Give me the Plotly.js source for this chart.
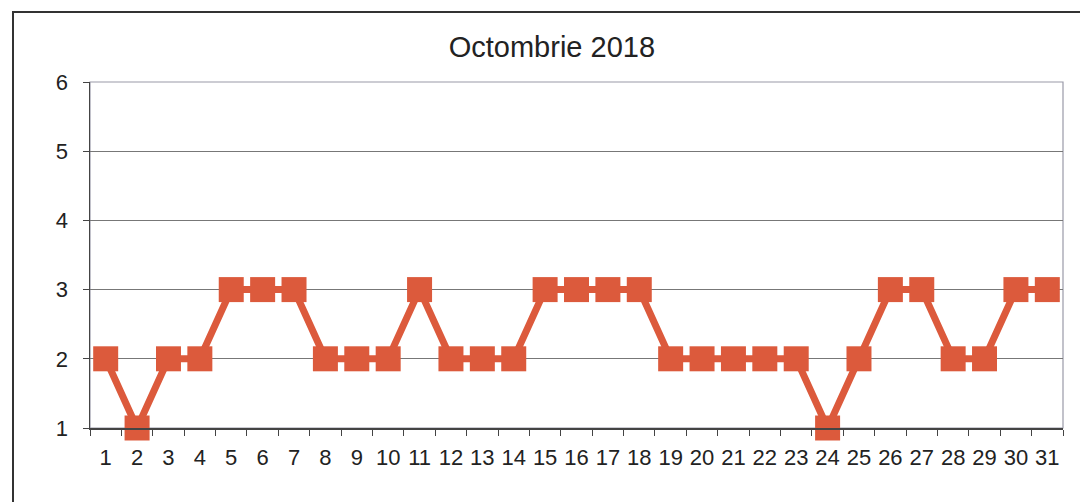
<!DOCTYPE html>
<html>
<head>
<meta charset="utf-8">
<script src="https://cdn.plot.ly/plotly-3.0.1.min.js"></script>
<style>
  html, body { margin: 0; padding: 0; background: #fff; }
  #wrap { position: relative; width: 1080px; height: 502px; overflow: hidden; }
  #frame { position: absolute; left: 12px; top: 11px; width: 1100px; height: 520px;
           border: 2px solid #333; box-sizing: border-box; pointer-events: none; }
  #chart { position: absolute; left: 0; top: 0; width: 1080px; height: 502px; }
</style>
</head>
<body>
<div id="wrap">
  <div id="chart"></div>
  <div id="frame"></div>
</div>
<script>
// daily values, October 2018
const DAYS = ['1','2','3','4','5','6','7','8','9','10','11','12','13','14','15','16',
              '17','18','19','20','21','22','23','24','25','26','27','28','29','30','31'];
const VALUES = [2, 1, 2, 2, 3, 3, 3, 2, 2, 2, 3, 2, 2, 2, 3, 3,
                3, 3, 2, 2, 2, 2, 2, 1, 2, 3, 3, 2, 2, 3, 3];
const Y_TICKS = [1, 2, 3, 4, 5, 6];

const LINE_RED = '#DC5A3C';
const FONT = 'Liberation Sans, Arial, sans-serif';

const trace = {
  type: 'scatter', mode: 'lines+markers',
  x: DAYS, y: VALUES,
  line: { color: LINE_RED, width: 7 },
  marker: { symbol: 'square', size: 25, color: LINE_RED },
  cliponaxis: false, hoverinfo: 'skip'
};

const layout = {
  width: 1080, height: 502,
  paper_bgcolor: 'rgba(0,0,0,0)', plot_bgcolor: 'rgba(0,0,0,0)',
  margin: { l: 90, r: 17, t: 82, b: 74 },
  showlegend: false,
  font: { family: FONT, color: '#222', size: 22 },
  title: { text: 'Octombrie 2018', font: { family: FONT, size: 29, color: '#222' },
           x: 0.511, xanchor: 'center', y: 0.906, yanchor: 'middle' },
  // light plot-area border (top and right)
  shapes: [{ type: 'rect', xref: 'paper', yref: 'paper', x0: 0, x1: 1, y0: 0, y1: 1,
             line: { color: '#9a9aa8', width: 1.2 }, layer: 'below' }],
  xaxis: {
    type: 'category', range: [-0.5, 30.5], tickangle: 0,
    tickson: 'boundaries', ticks: 'outside', ticklen: 6, tickcolor: '#444',
    showgrid: false, showline: true, linecolor: '#444', linewidth: 1.5,
    tickfont: { family: FONT, size: 22, color: '#222' }, ticklabelstandoff: 9,
    zeroline: false
  },
  yaxis: {
    range: [1, 6], tickvals: Y_TICKS, ticks: 'outside', ticklen: 6, tickcolor: '#444',
    showgrid: true, gridcolor: '#777', gridwidth: 1,
    showline: true, linecolor: '#444', linewidth: 1.5, zeroline: false,
    tickfont: { family: FONT, size: 22, color: '#222' }, ticklabelstandoff: 10
  }
};

Plotly.newPlot('chart', [trace], layout, { displayModeBar: false, staticPlot: true });
</script>
</body>
</html>
